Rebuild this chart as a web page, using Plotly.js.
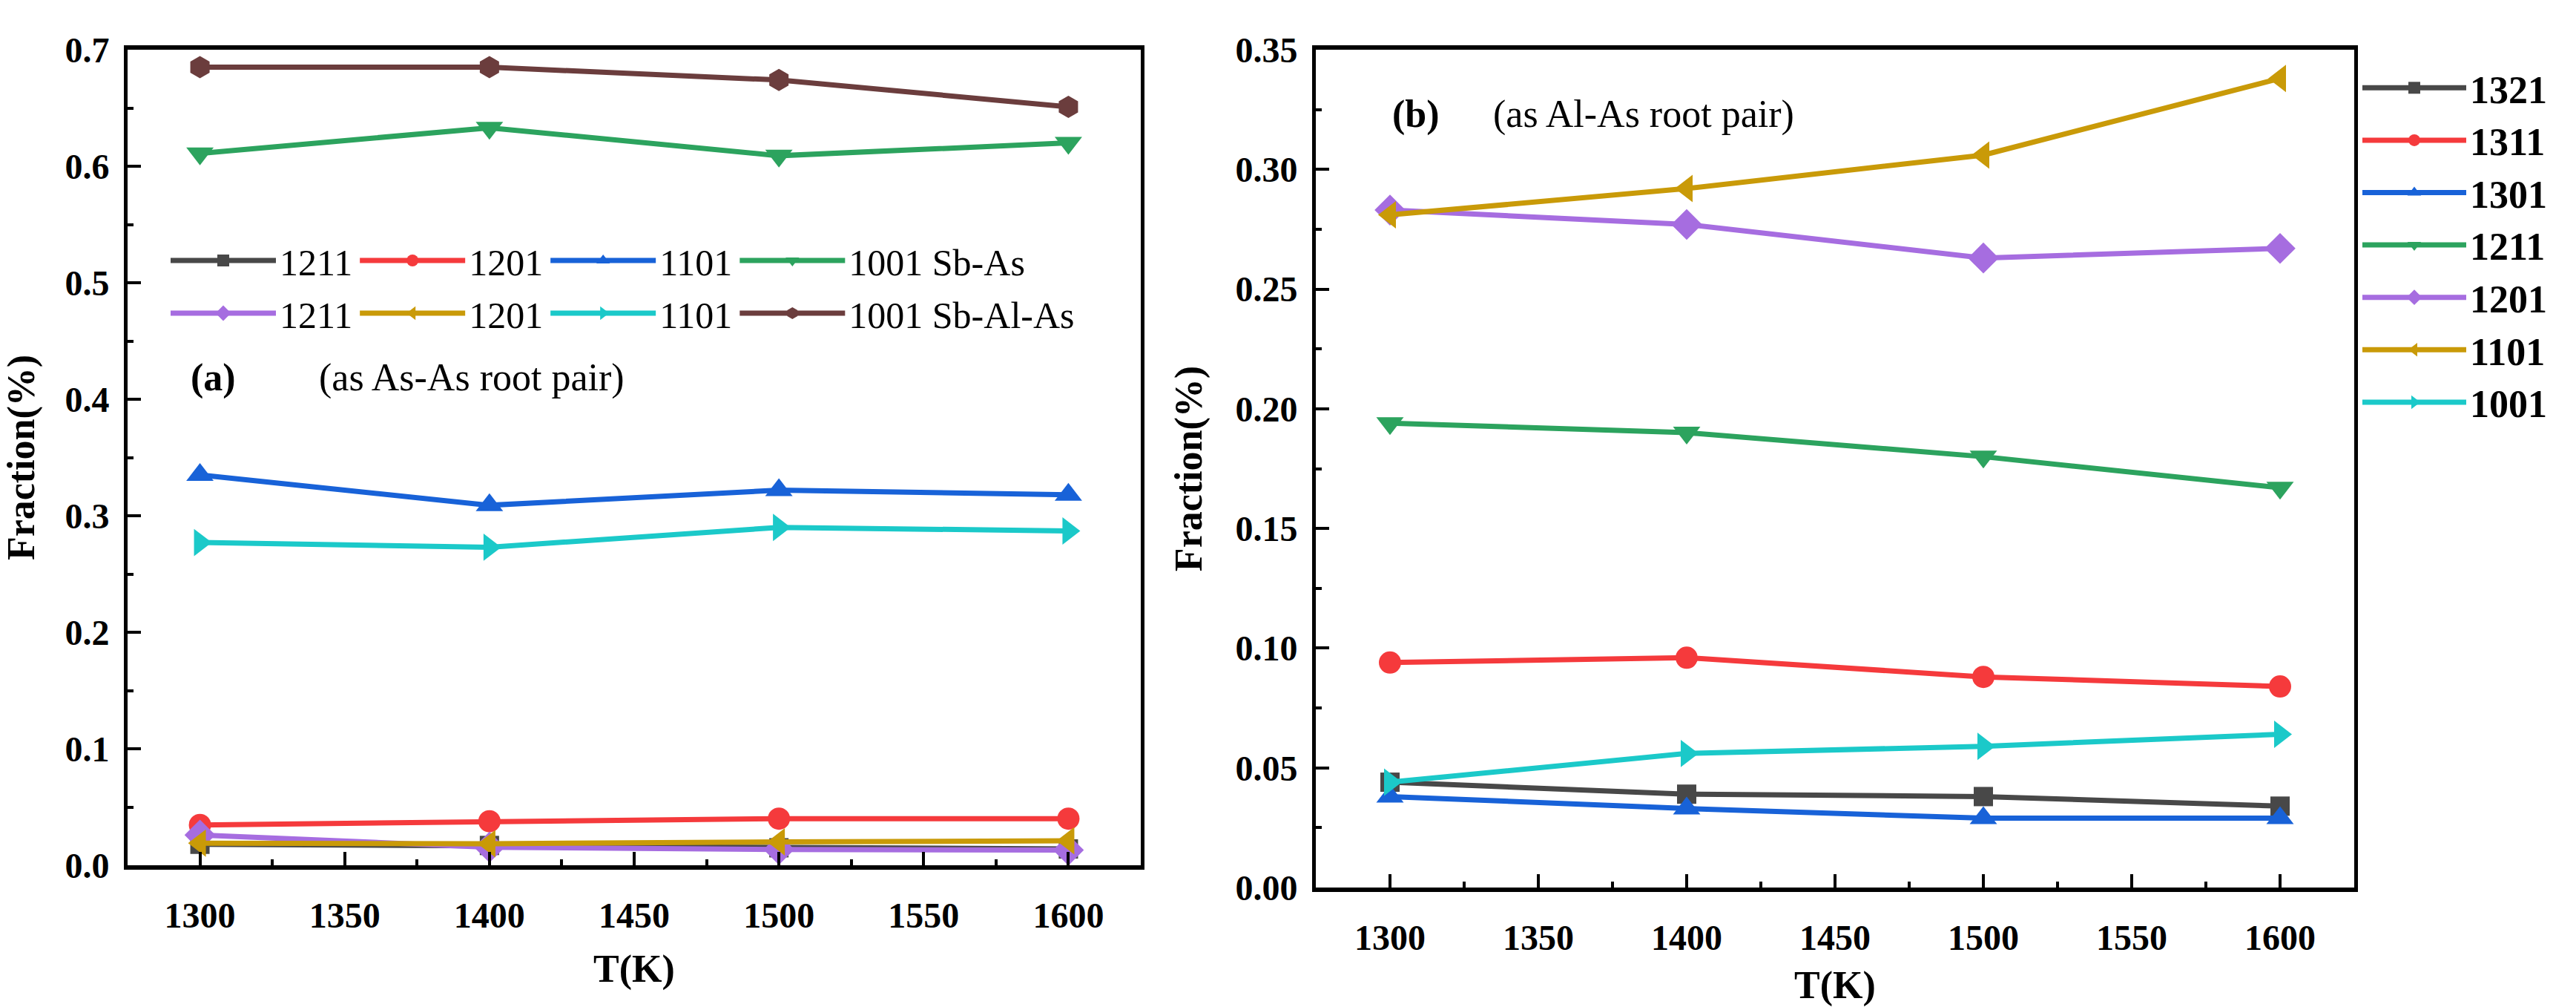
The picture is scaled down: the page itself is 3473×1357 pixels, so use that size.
<!DOCTYPE html>
<html>
<head>
<meta charset="utf-8">
<script src="https://cdn.plot.ly/plotly-3.0.1.min.js"></script>
<style>html,body{margin:0;padding:0;background:#fff;}#chart{width:3473px;height:1357px;}</style>
</head>
<body>
<div id="chart"></div>
<script>
// ---------- data ----------
const temps = [1300, 1400, 1500, 1600];

// panel (a): as As-As root pair
const a_names = ['1211', '1201', '1101', '1001 Sb-As', '1211', '1201', '1101', '1001 Sb-Al-As'];
const a_1211_SbAs   = [0.018, 0.017, 0.015, 0.014];
const a_1201_SbAs   = [0.0346, 0.0378, 0.040, 0.040];
const a_1101_SbAs   = [0.335, 0.309, 0.322, 0.318];
const a_1001_SbAs   = [0.611, 0.633, 0.609, 0.620];
const a_1211_SbAlAs = [0.026, 0.0155, 0.0135, 0.013];
const a_1201_SbAlAs = [0.019, 0.0185, 0.020, 0.021];
const a_1101_SbAlAs = [0.277, 0.273, 0.290, 0.287];
const a_1001_SbAlAs = [0.685, 0.685, 0.674, 0.651];

// panel (b): as Al-As root pair
const b_names = ['1321', '1311', '1301', '1211', '1201', '1101', '1001'];
const b_1321 = [0.044, 0.039, 0.038, 0.034];
const b_1311 = [0.094, 0.096, 0.088, 0.084];
const b_1301 = [0.038, 0.033, 0.029, 0.029];
const b_1211 = [0.194, 0.190, 0.180, 0.167];
const b_1201 = [0.283, 0.277, 0.263, 0.267];
const b_1101 = [0.281, 0.292, 0.306, 0.338];
const b_1001 = [0.044, 0.056, 0.059, 0.064];

// ---------- styles ----------
const C = {
  gray: '#484848', red: '#f53a3c', blue: '#1862d8', green: '#2ca35e',
  purple: '#a66de0', gold: '#c99a08', cyan: '#1bc9c9', brown: '#6b3d3d'
};
const SERIF = '"Liberation Serif", "Times New Roman", serif';
const LW = 7;
const SIZES = {'square': 26, 'circle': 30, 'triangle-up': 32, 'triangle-down': 32,
               'diamond': 32, 'triangle-left': 32, 'triangle-right': 32, 'hexagon': 30};

function tr(x, y, name, color, symbol, xa, ya, legend) {
  return {
    type: 'scatter', mode: 'lines+markers', x: x, y: y, name: name,
    xaxis: xa, yaxis: ya, legend: legend,
    line: {color: color, width: LW},
    marker: {color: color, symbol: symbol, size: SIZES[symbol], line: {width: 0}},
    hoverinfo: 'x+y+name'
  };
}

const data = [
  // panel a row 1
  tr(temps, a_1211_SbAs,   a_names[0], C.gray,   'square',         'x', 'y', 'legend'),
  tr(temps, a_1201_SbAs,   a_names[1], C.red,    'circle',         'x', 'y', 'legend'),
  tr(temps, a_1101_SbAs,   a_names[2], C.blue,   'triangle-up',    'x', 'y', 'legend'),
  tr(temps, a_1001_SbAs,   a_names[3], C.green,  'triangle-down',  'x', 'y', 'legend'),
  // panel a row 2
  tr(temps, a_1211_SbAlAs, a_names[4], C.purple, 'diamond',        'x', 'y', 'legend2'),
  tr(temps, a_1201_SbAlAs, a_names[5], C.gold,   'triangle-left',  'x', 'y', 'legend2'),
  tr(temps, a_1101_SbAlAs, a_names[6], C.cyan,   'triangle-right', 'x', 'y', 'legend2'),
  tr(temps, a_1001_SbAlAs, a_names[7], C.brown,  'hexagon',        'x', 'y', 'legend2'),
  // panel b
  tr(temps, b_1321, b_names[0], C.gray,   'square',         'x2', 'y2', 'legend3'),
  tr(temps, b_1311, b_names[1], C.red,    'circle',         'x2', 'y2', 'legend3'),
  tr(temps, b_1301, b_names[2], C.blue,   'triangle-up',    'x2', 'y2', 'legend3'),
  tr(temps, b_1211, b_names[3], C.green,  'triangle-down',  'x2', 'y2', 'legend3'),
  tr(temps, b_1201, b_names[4], C.purple, 'diamond',        'x2', 'y2', 'legend3'),
  tr(temps, b_1101, b_names[5], C.gold,   'triangle-left',  'x2', 'y2', 'legend3'),
  tr(temps, b_1001, b_names[6], C.cyan,   'triangle-right', 'x2', 'y2', 'legend3')
];

const W = 3473, H = 1357;
const tickFont = {family: SERIF, size: 48, color: '#000', weight: 'bold'};
const titleFont = {family: SERIF, size: 52, color: '#000', weight: 'bold'};

function xaxis(domain, anchor) {
  return {
    domain: domain, anchor: anchor, range: [1275, 1625],
    tick0: 1300, dtick: 50, ticks: 'inside', ticklen: 18, tickwidth: 4, tickcolor: '#000',
    minor: {dtick: 25, ticks: 'inside', ticklen: 8, tickwidth: 4, tickcolor: '#000'},
    showline: true, linewidth: 6, linecolor: '#000', mirror: true,
    showgrid: false, zeroline: false, tickfont: tickFont, ticklabelstandoff: 20,
    title: {text: 'T(K)', font: titleFont, standoff: 30}
  };
}
function yaxis(domain, anchor, range, dtick, fmt) {
  return {
    domain: domain, anchor: anchor, range: range,
    tick0: 0, dtick: dtick, tickformat: fmt,
    ticks: 'inside', ticklen: 18, tickwidth: 4, tickcolor: '#000',
    minor: {dtick: dtick / 2, ticks: 'inside', ticklen: 8, tickwidth: 4, tickcolor: '#000'},
    showline: true, linewidth: 5, linecolor: '#000', mirror: true,
    showgrid: false, zeroline: false, tickfont: tickFont, ticklabelstandoff: 10,
    title: {text: 'Fraction(%)', font: titleFont, standoff: 30}
  };
}

const legendBase = {
  orientation: 'h', xanchor: 'left', yanchor: 'middle', bgcolor: 'rgba(0,0,0,0)',
  font: {family: SERIF, size: 50, color: '#000'}, itemwidth: 142,
  tracegroupgap: 0
};

const layout = {
  width: W, height: H,
  margin: {l: 0, r: 0, t: 0, b: 0},
  paper_bgcolor: '#fff', plot_bgcolor: '#fff',
  showlegend: true,
  xaxis: xaxis([172 / W, 1538 / W], 'y'),
  yaxis: yaxis([1 - 1166 / H, 1 - 67 / H], 'x', [0, 0.7], 0.1, '.1f'),
  xaxis2: xaxis([1774 / W, 3174 / W], 'y2'),
  yaxis2: yaxis([1 - 1196 / H, 1 - 67 / H], 'x2', [0, 0.35], 0.05, '.2f'),
  legend: Object.assign({}, legendBase, {x: 225 / W, y: 1 - 351 / H}),
  legend2: Object.assign({}, legendBase, {x: 225 / W, y: 1 - 422 / H}),
  legend3: {
    orientation: 'v', xanchor: 'left', yanchor: 'top', bgcolor: 'rgba(0,0,0,0)',
    font: {family: SERIF, size: 52, color: '#000', weight: 'bold'},
    itemwidth: 140, x: 3180 / W, y: 1 - 78 / H, tracegroupgap: 0
  },
  annotations: [
    {xref: 'paper', yref: 'paper', x: 287 / W, y: 1 - 509 / H, text: '(a)', showarrow: false,
     xanchor: 'center', yanchor: 'middle', font: {family: SERIF, size: 52, color: '#000', weight: 'bold'}},
    {xref: 'paper', yref: 'paper', x: 428 / W, y: 1 - 509 / H, text: '(as As-As root pair)', showarrow: false,
     xanchor: 'left', yanchor: 'middle', font: {family: SERIF, size: 52, color: '#000'}},
    {xref: 'paper', yref: 'paper', x: 1909 / W, y: 1 - 154 / H, text: '(b)', showarrow: false,
     xanchor: 'center', yanchor: 'middle', font: {family: SERIF, size: 52, color: '#000', weight: 'bold'}},
    {xref: 'paper', yref: 'paper', x: 2011 / W, y: 1 - 154 / H, text: '(as Al-As root pair)', showarrow: false,
     xanchor: 'left', yanchor: 'middle', font: {family: SERIF, size: 52, color: '#000'}}
  ]
};

Plotly.newPlot('chart', data, layout, {displayModeBar: false, responsive: false});
</script>
</body>
</html>
